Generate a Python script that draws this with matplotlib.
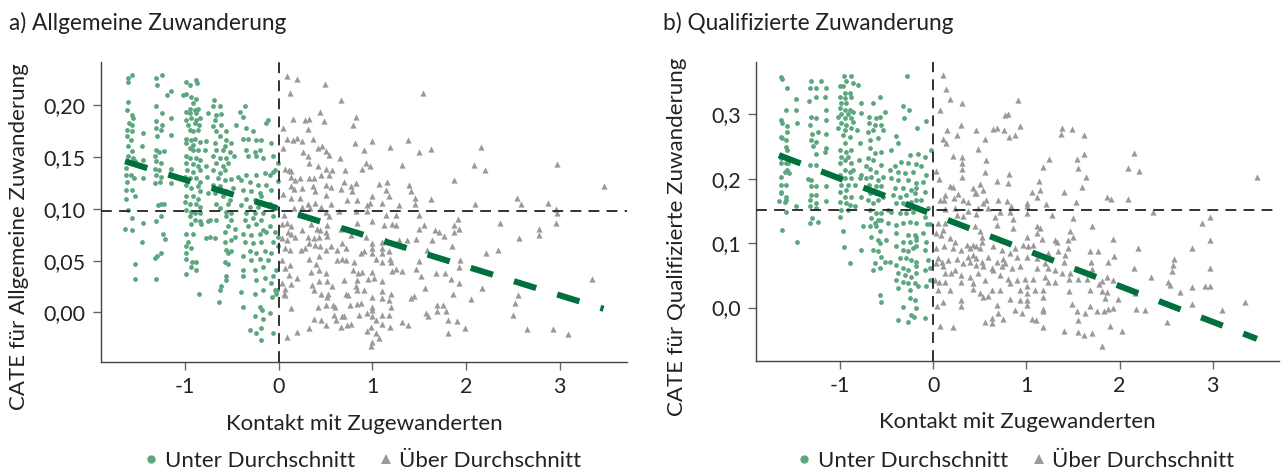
import numpy as np
import matplotlib
matplotlib.use("Agg")
import matplotlib.pyplot as plt
from matplotlib.lines import Line2D

plt.rcParams['font.family'] = ['Lato', 'DejaVu Sans']
plt.rcParams['axes.unicode_minus'] = False

GREEN = '#5ba77f'
GREY = '#9a9a9a'
FITC = '#00703c'
TXT = '#222222'

# ---------------- data ----------------
a_unter = [
(-1.614,0.227),(-1.571,0.229),(-1.607,0.223),(-1.607,0.203),(-1.621,0.196),(-1.571,0.191),(-1.561,0.188),
(-1.596,0.183),(-1.571,0.181),(-1.621,0.176),(-1.568,0.175),(-1.621,0.170),(-1.575,0.167),(-1.614,0.161),
(-1.571,0.156),(-1.614,0.151),(-1.561,0.149),(-1.536,0.146),(-1.632,0.140),(-1.632,0.133),(-1.575,0.133),
(-1.625,0.126),(-1.543,0.130),(-1.632,0.118),(-1.571,0.118),(-1.632,0.110),(-1.536,0.112),(-1.607,0.099),
(-1.571,0.091),(-1.643,0.081),(-1.571,0.080),(-1.536,0.047),(-1.536,0.032),
(-1.454,0.173),(-1.461,0.161),(-1.454,0.147),(-1.454,0.130),(-1.454,0.086),(-1.464,0.068),
(-1.311,0.227),(-1.250,0.229),(-1.300,0.220),(-1.150,0.214),(-1.193,0.210),(-1.311,0.199),(-1.250,0.193),
(-1.311,0.185),(-1.250,0.181),(-1.311,0.178),(-1.257,0.176),(-1.304,0.170),(-1.311,0.157),(-1.275,0.155),
(-1.229,0.156),(-1.318,0.151),(-1.311,0.146),(-1.257,0.144),(-1.318,0.139),(-1.282,0.138),(-1.311,0.133),
(-1.257,0.131),(-1.318,0.125),(-1.268,0.126),(-1.150,0.188),(-1.150,0.171),(-1.150,0.139),(-1.143,0.133),
(-1.157,0.125),(-1.257,0.105),(-1.232,0.105),(-1.293,0.104),(-1.257,0.093),(-1.311,0.088),(-1.239,0.076),
(-1.221,0.071),(-1.304,0.054),(-1.318,0.053),(-1.257,0.057),(-1.311,0.032),
(-0.996,0.223),(-0.954,0.220),(-0.882,0.225),(-0.871,0.222),(-1.025,0.210),(-0.996,0.211),(-0.936,0.208),
(-0.882,0.206),(-0.918,0.202),(-0.954,0.197),(-0.900,0.196),(-0.864,0.197),(-0.996,0.194),(-0.954,0.193),
(-0.882,0.193),(-0.936,0.188),(-0.882,0.186),(-0.846,0.188),(-0.996,0.186),(-0.971,0.181),(-0.900,0.183),
(-0.854,0.181),(-0.954,0.176),(-0.918,0.175),(-0.864,0.176),(-0.996,0.168),(-0.936,0.167),(-0.893,0.168),
(-0.989,0.164),(-0.918,0.162),(-0.846,0.165),(-0.954,0.159),(-0.918,0.157),(-0.864,0.157),(-0.996,0.151),
(-0.946,0.149),(-0.882,0.149),(-0.846,0.147),(-0.989,0.144),(-0.918,0.143),(-0.864,0.141),(-0.982,0.138),
(-0.918,0.136),(-0.846,0.138),(-1.007,0.131),(-0.954,0.130),(-0.882,0.130),(-0.846,0.126),(-0.996,0.123),
(-0.936,0.120),(-0.864,0.122),(-0.846,0.117),(-0.989,0.112),(-0.918,0.112),(-0.864,0.110),(-1.007,0.107),
(-0.954,0.105),(-0.882,0.105),(-0.846,0.102),(-0.989,0.099),(-0.936,0.097),(-0.900,0.096),(-0.846,0.096),
(-0.954,0.093),(-0.900,0.089),(-0.846,0.088),(-0.936,0.085),(-0.829,0.085),(-0.996,0.076),(-0.918,0.076),
(-0.971,0.068),(-0.996,0.064),(-0.936,0.062),(-0.996,0.057),(-0.989,0.052),(-0.925,0.049),(-0.882,0.049),
(-0.936,0.044),(-0.882,0.041),(-0.989,0.037),(-0.857,0.018),
(-0.782,0.166),(-0.757,0.193),(-0.775,0.141),(-0.793,0.157),(-0.764,0.131),(-0.757,0.088),(-0.739,0.073),
(-0.757,0.115),
(-0.693,0.205),(-0.704,0.199),(-0.632,0.199),(-0.675,0.191),(-0.686,0.186),(-0.621,0.192),(-0.704,0.180),
(-0.614,0.181),(-0.668,0.175),(-0.561,0.175),(-0.632,0.170),(-0.561,0.167),(-0.686,0.164),(-0.579,0.161),
(-0.507,0.164),(-0.668,0.157),(-0.596,0.157),(-0.525,0.155),(-0.704,0.151),(-0.632,0.149),(-0.561,0.149),
(-0.479,0.151),(-0.668,0.144),(-0.596,0.141),(-0.543,0.144),(-0.704,0.138),(-0.632,0.135),(-0.579,0.138),
(-0.650,0.130),(-0.579,0.128),(-0.507,0.129),(-0.704,0.123),(-0.632,0.122),(-0.561,0.117),(-0.489,0.120),
(-0.686,0.115),(-0.596,0.112),(-0.525,0.109),(-0.668,0.105),(-0.543,0.105),(-0.632,0.101),(-0.561,0.097),
(-0.507,0.096),(-0.739,0.089),(-0.668,0.089),(-0.561,0.093),(-0.507,0.089),(-0.543,0.083),(-0.471,0.081),
(-0.579,0.078),(-0.471,0.073),(-0.775,0.072),(-0.686,0.072),(-0.579,0.068),(-0.507,0.070),(-0.561,0.060),
(-0.507,0.059),(-0.543,0.057),(-0.579,0.049),(-0.543,0.047),(-0.561,0.035),(-0.561,0.031),(-0.614,0.025),
(-0.632,0.022),(-0.643,0.010),
(-0.418,0.194),(-0.382,0.189),(-0.364,0.199),(-0.454,0.181),(-0.346,0.178),(-0.275,0.175),(-0.382,0.168),
(-0.329,0.168),(-0.239,0.167),(-0.186,0.167),(-0.346,0.157),(-0.257,0.155),(-0.204,0.157),(-0.329,0.151),
(-0.239,0.151),(-0.168,0.149),(-0.436,0.131),(-0.346,0.133),(-0.239,0.133),(-0.150,0.135),(-0.400,0.128),
(-0.311,0.126),(-0.221,0.123),(-0.132,0.123),(-0.382,0.118),(-0.293,0.117),(-0.204,0.115),(-0.346,0.110),
(-0.257,0.109),(-0.186,0.112),(-0.400,0.104),(-0.311,0.102),(-0.221,0.102),(-0.132,0.105),(-0.346,0.096),
(-0.257,0.096),(-0.168,0.096),(-0.364,0.089),(-0.275,0.091),(-0.186,0.089),(-0.329,0.083),(-0.239,0.085),
(-0.168,0.080),(-0.382,0.076),(-0.293,0.075),(-0.204,0.076),(-0.132,0.078),(-0.364,0.068),(-0.275,0.067),
(-0.186,0.068),(-0.311,0.059),(-0.239,0.057),(-0.150,0.059),(-0.382,0.054),(-0.293,0.051),(-0.204,0.052),
(-0.382,0.041),(-0.257,0.041),(-0.168,0.044),(-0.382,0.035),(-0.239,0.031),(-0.150,0.033),(-0.400,0.020),
(-0.257,0.018),(-0.168,0.022),(-0.382,0.005),(-0.204,0.005),(-0.179,0.002),(-0.257,-0.004),(-0.168,-0.006),
(-0.186,-0.015),(-0.239,-0.020),(-0.311,-0.017),(-0.193,-0.027),(-0.061,-0.020),(-0.071,0.015),(-0.096,-0.001),
(-0.079,0.028),(-0.061,0.136),
(-0.132,0.183),(-0.114,0.186),(-0.079,0.164),(-0.061,0.151),(-0.096,0.133),(-0.043,0.138),(-0.079,0.118),
(-0.096,0.105),(-0.025,0.102),(-0.061,0.093),(-0.096,0.083),(-0.043,0.078),(-0.061,0.068),(-0.079,0.057),
(-0.114,0.051),(-0.025,0.041),(-0.061,0.035),(-0.043,0.022),(-0.025,0.018),
(-0.010,0.144),(-0.010,0.127),(-0.015,0.101),(-0.010,0.073),(-0.012,0.064),(-0.015,0.022),
]

a_ueber = [
(0.082,0.228),(0.196,0.226),(0.488,0.221),(0.118,0.212),(1.544,0.212),(0.660,0.205),(0.439,0.194),(0.820,0.189),
(0.150,0.187),(0.278,0.186),(0.321,0.187),(0.481,0.185),(0.046,0.178),(0.310,0.177),(0.795,0.181),(0.089,0.168),
(0.150,0.167),(0.189,0.169),(0.250,0.166),(0.367,0.168),(0.809,0.164),(0.998,0.166),(1.380,0.167),(0.046,0.159),
(0.421,0.159),(0.463,0.161),(0.499,0.156),(0.909,0.157),(1.187,0.160),(1.497,0.155),(1.622,0.158),(0.260,0.155),
(0.310,0.151),(0.535,0.152),(0.652,0.149),(0.321,0.144),(0.107,0.138),(0.417,0.141),(0.499,0.139),(0.570,0.138),
(0.702,0.138),(0.884,0.139),(0.927,0.144),(0.970,0.141),(1.319,0.142),(0.071,0.139),(0.135,0.137),(0.125,0.131),
(0.178,0.128),(0.225,0.130),(0.321,0.130),(0.381,0.130),(0.446,0.133),(0.535,0.133),(0.695,0.126),(0.820,0.125),
(1.070,0.124),(1.152,0.126),(1.390,0.123),(0.046,0.114),(0.135,0.122),(0.160,0.119),(0.250,0.120),(0.367,0.122),
(0.385,0.117),(0.499,0.123),(0.553,0.121),(0.660,0.119),(0.766,0.122),(0.784,0.117),(1.141,0.118),(1.176,0.112),
(1.408,0.117),(1.455,0.111),(0.125,0.111),(0.225,0.111),(0.314,0.105),(0.385,0.106),(0.499,0.113),(0.560,0.105),
(0.724,0.109),(0.831,0.109),(0.945,0.104),(0.998,0.112),(0.973,0.106),(1.105,0.106),(1.283,0.104),(1.455,0.105),
(1.622,0.110),(0.053,0.094),(0.160,0.101),(0.250,0.102),(0.332,0.101),(0.446,0.102),(0.499,0.097),(0.535,0.093),
(0.642,0.098),(0.820,0.098),(0.945,0.098),(1.141,0.094),(1.248,0.094),(1.497,0.094),(0.036,0.085),(0.082,0.086),
(0.125,0.083),(0.096,0.078),(0.125,0.076),(0.250,0.080),(0.339,0.085),(0.410,0.081),(0.439,0.080),(0.499,0.078),
(0.517,0.084),(0.660,0.081),(0.838,0.086),(0.998,0.088),(1.123,0.084),(1.212,0.085),(1.248,0.084),(1.497,0.081),
(1.551,0.084),(1.668,0.080),(1.711,0.078),(0.036,0.072),(0.089,0.070),(0.178,0.073),(0.314,0.073),(0.374,0.072),
(0.428,0.073),(0.517,0.074),(0.766,0.075),(0.927,0.073),(1.141,0.070),(1.283,0.070),(1.462,0.071),(1.640,0.070),
(0.071,0.062),(0.118,0.060),(0.232,0.060),(0.278,0.062),(0.321,0.067),(0.385,0.065),(0.439,0.064),(0.499,0.060),
(0.553,0.064),(0.624,0.060),(0.677,0.067),(0.713,0.062),(0.873,0.057),(0.909,0.059),(0.998,0.067),(0.998,0.062),
(0.998,0.057),(1.105,0.068),(1.098,0.062),(1.105,0.057),(1.176,0.059),(1.373,0.070),(0.036,0.051),(0.321,0.052),
(0.428,0.054),(0.624,0.051),(0.677,0.052),(0.713,0.051),(0.802,0.049),(1.034,0.052),(1.105,0.049),(1.187,0.052),
(1.194,0.049),(1.497,0.050),(1.586,0.060),(0.118,0.046),(0.071,0.043),(0.392,0.047),(0.428,0.041),(0.346,0.039),
(0.499,0.038),(0.107,0.036),(0.196,0.033),(0.795,0.041),(0.848,0.038),(0.891,0.039),(0.998,0.039),(1.212,0.040),
(1.255,0.042),(1.319,0.040),(1.469,0.042),(1.515,0.035),(1.676,0.038),(0.036,0.028),(0.071,0.023),(0.135,0.027),
(0.357,0.026),(0.428,0.030),(0.517,0.030),(0.563,0.025),(0.695,0.031),(0.838,0.031),(0.955,0.032),(1.016,0.033),
(1.105,0.030),(1.561,0.024),(0.053,0.018),(0.071,0.017),(0.374,0.022),(0.446,0.018),(0.524,0.018),(0.713,0.018),
(0.742,0.017),(0.820,0.025),(0.838,0.022),(0.909,0.022),(0.998,0.015),(1.105,0.021),(1.105,0.014),(1.194,0.018),
(1.408,0.014),(1.444,0.016),(0.517,0.015),(0.417,0.005),(0.499,0.007),(0.578,0.007),(0.599,0.005),(0.756,0.007),
(0.831,0.008),(0.873,0.009),(0.998,0.005),(0.998,0.002),(1.176,0.012),(1.194,0.005),(1.693,0.007),(0.125,0.004),
(0.374,-0.006),(0.446,-0.007),(0.499,-0.012),(0.588,-0.003),(0.606,-0.007),(0.677,-0.004),(0.695,-0.004),
(0.856,-0.003),(0.945,-0.001),(0.998,-0.004),(1.034,-0.007),(1.105,-0.003),(1.176,-0.003),(1.569,-0.001),
(1.594,-0.004),(1.693,0.001),(0.321,-0.015),(0.196,-0.019),(0.660,-0.014),(0.731,-0.012),(0.766,-0.011),
(0.945,-0.018),(0.980,-0.014),(1.034,-0.020),(1.105,-0.011),(1.187,-0.014),(1.312,-0.009),(1.383,-0.012),
(0.082,-0.024),(0.980,-0.033),(0.998,-0.029),(1.070,-0.025),(1.765,0.074),
(2.160,0.160),(2.089,0.142),(2.207,0.138),(2.970,0.143),(3.469,0.122),(2.545,0.111),(2.588,0.105),(2.096,0.105),
(2.880,0.106),(2.963,0.100),(2.970,0.096),(2.963,0.086),(1.911,0.090),(1.929,0.081),(2.367,0.086),(2.784,0.081),
(2.784,0.075),(2.570,0.072),(1.847,0.064),(2.214,0.057),(2.346,0.060),(1.939,0.051),(1.929,0.044),(1.929,0.028),
(2.168,0.024),(3.344,0.032),(2.560,0.017),(2.528,0.009),(2.057,0.013),(2.506,-0.003),(1.989,-0.015),(1.900,-0.008),
(2.652,-0.016),(2.927,-0.016),(3.094,-0.021),
(1.875,0.128),(1.875,0.084),(1.868,0.078),(1.779,0.038),(1.840,0.032),(1.865,0.018),(1.758,0.007),(1.786,0.001),
(1.811,-0.007),(1.811,-0.020),
]

b_unter = [
(-1.629,0.357),(-1.618,0.355),(-1.568,0.340),(-1.583,0.307),(-1.629,0.291),(-1.618,0.287),(-1.568,0.282),
(-1.629,0.265),(-1.618,0.263),(-1.575,0.260),(-1.568,0.273),(-1.583,0.249),(-1.568,0.245),(-1.629,0.232),
(-1.583,0.225),(-1.629,0.224),(-1.557,0.224),(-1.568,0.214),(-1.593,0.211),(-1.547,0.208),(-1.629,0.203),
(-1.629,0.190),(-1.583,0.190),(-1.636,0.180),(-1.629,0.177),(-1.583,0.172),(-1.583,0.167),(-1.593,0.163),
(-1.654,0.166),(-1.583,0.149),(-1.618,0.120),
(-1.468,0.324),(-1.468,0.307),(-1.457,0.286),(-1.468,0.157),(-1.457,0.101),
(-1.307,0.351),(-1.253,0.340),(-1.199,0.352),(-1.153,0.340),(-1.318,0.340),(-1.332,0.321),(-1.253,0.327),
(-1.307,0.296),(-1.253,0.294),(-1.325,0.283),(-1.296,0.270),(-1.235,0.273),(-1.153,0.307),(-1.153,0.291),
(-1.146,0.269),(-1.307,0.260),(-1.260,0.257),(-1.289,0.250),(-1.146,0.247),(-1.164,0.242),(-1.253,0.239),
(-1.260,0.221),(-1.325,0.221),(-1.343,0.199),(-1.314,0.198),(-1.307,0.188),(-1.253,0.188),(-1.153,0.188),
(-1.307,0.175),(-1.253,0.175),(-1.325,0.167),(-1.153,0.165),(-1.260,0.162),(-1.318,0.157),(-1.253,0.154),
(-1.296,0.139),(-1.235,0.133),(-1.318,0.131),
(-0.956,0.360),(-0.877,0.360),(-0.931,0.351),(-0.859,0.348),(-0.806,0.346),(-1.003,0.343),(-0.967,0.344),
(-0.949,0.333),(-0.895,0.333),(-1.003,0.327),(-0.949,0.325),(-0.877,0.327),(-0.985,0.317),(-0.931,0.317),
(-1.003,0.309),(-0.949,0.307),(-0.895,0.307),(-0.985,0.301),(-0.913,0.301),(-0.859,0.304),(-1.020,0.296),
(-0.949,0.294),(-0.877,0.294),(-0.985,0.286),(-0.931,0.283),(-0.859,0.288),(-1.020,0.278),(-0.949,0.276),
(-0.877,0.278),(-0.967,0.268),(-0.895,0.265),(-0.949,0.255),(-1.003,0.245),(-0.931,0.242),(-0.877,0.245),
(-0.985,0.234),(-0.913,0.234),(-0.949,0.229),(-1.003,0.224),(-0.877,0.224),(-0.949,0.214),(-0.895,0.211),
(-1.003,0.206),(-0.949,0.201),(-0.877,0.201),(-0.985,0.190),(-0.913,0.190),(-0.841,0.190),(-1.003,0.180),
(-0.931,0.182),(-0.949,0.172),(-0.877,0.172),(-1.003,0.164),(-0.931,0.162),(-0.895,0.159),(-0.985,0.151),
(-0.913,0.151),(-1.003,0.141),(-0.967,0.118),(-0.956,0.094),(-0.895,0.069),(-0.770,0.317),(-0.770,0.302),
(-0.795,0.229),(-0.770,0.206),(-0.788,0.201),(-0.770,0.172),(-0.752,0.126),(-0.770,0.089),(-0.841,0.157),
(-0.859,0.214),(-0.813,0.276),(-0.788,0.255),(-1.164,0.327),
(-0.644,0.317),(-0.566,0.326),(-0.687,0.296),(-0.609,0.294),(-0.573,0.296),(-0.519,0.304),(-0.687,0.286),
(-0.627,0.283),(-0.555,0.283),(-0.698,0.273),(-0.644,0.276),(-0.537,0.275),(-0.680,0.260),(-0.591,0.263),
(-0.680,0.247),(-0.627,0.240),(-0.555,0.242),(-0.698,0.232),(-0.644,0.229),(-0.716,0.219),(-0.680,0.215),
(-0.609,0.211),(-0.555,0.221),(-0.716,0.201),(-0.662,0.203),(-0.591,0.198),(-0.537,0.203),(-0.691,0.190),
(-0.609,0.188),(-0.555,0.188),(-0.680,0.177),(-0.609,0.177),(-0.537,0.172),(-0.698,0.167),(-0.644,0.162),
(-0.591,0.167),(-0.680,0.151),(-0.609,0.146),(-0.555,0.146),(-0.662,0.139),(-0.591,0.136),(-0.555,0.136),
(-0.680,0.126),(-0.609,0.126),(-0.573,0.118),(-0.662,0.110),(-0.591,0.105),(-0.573,0.100),(-0.644,0.089),
(-0.591,0.087),(-0.555,0.079),(-0.627,0.069),(-0.644,0.058),(-0.573,0.061),(-0.519,0.071),(-0.465,0.071),
(-0.573,0.020),(-0.555,0.009),(-0.627,0.131),(-0.483,0.151),(-0.483,0.131),(-0.501,0.105),
(-0.276,0.360),(-0.322,0.312),(-0.258,0.307),(-0.315,0.294),(-0.168,0.278),(-0.394,0.266),(-0.376,0.255),
(-0.448,0.245),(-0.243,0.236),(-0.340,0.226),(-0.269,0.224),(-0.412,0.220),(-0.179,0.223),(-0.465,0.214),
(-0.376,0.211),(-0.304,0.208),(-0.215,0.211),(-0.448,0.201),(-0.376,0.198),(-0.269,0.198),(-0.179,0.193),
(-0.412,0.185),(-0.322,0.185),(-0.233,0.182),(-0.179,0.185),(-0.430,0.175),(-0.358,0.172),(-0.286,0.175),
(-0.197,0.177),(-0.394,0.162),(-0.322,0.162),(-0.233,0.164),(-0.179,0.167),(-0.448,0.149),(-0.358,0.146),
(-0.286,0.146),(-0.215,0.149),(-0.394,0.128),(-0.322,0.131),(-0.251,0.133),(-0.179,0.131),(-0.394,0.115),
(-0.269,0.113),(-0.197,0.113),(-0.179,0.110),(-0.322,0.102),(-0.251,0.102),(-0.179,0.105),(-0.394,0.095),
(-0.322,0.089),(-0.269,0.087),(-0.215,0.092),(-0.179,0.095),(-0.358,0.077),(-0.286,0.077),(-0.233,0.074),
(-0.179,0.071),(-0.394,0.066),(-0.322,0.061),(-0.269,0.058),(-0.179,0.064),(-0.376,0.053),(-0.304,0.051),
(-0.233,0.048),(-0.179,0.053),(-0.394,0.043),(-0.322,0.040),(-0.269,0.038),(-0.197,0.038),(-0.376,0.030),
(-0.251,0.027),(-0.161,0.033),(-0.251,0.014),(-0.197,0.012),(-0.322,0.001),(-0.179,-0.001),(-0.233,-0.011),
(-0.376,-0.019),(-0.269,-0.022),(-0.208,-0.014),(-0.090,-0.017),
(-0.072,0.290),(-0.090,0.234),(-0.161,0.239),(-0.125,0.219),(-0.072,0.206),(-0.107,0.195),(-0.090,0.180),
(-0.132,0.167),(-0.054,0.154),(-0.090,0.141),(-0.061,0.129),(-0.036,0.129),(-0.107,0.115),(-0.072,0.102),
(-0.090,0.089),(-0.054,0.074),(-0.036,0.061),(-0.090,0.058),(-0.036,0.043),(-0.072,0.033),(-0.018,0.244),
]

b_ueber = [
(0.107,0.361),(0.136,0.339),(0.186,0.323),(0.315,0.318),(0.906,0.322),(0.072,0.307),(0.770,0.299),(0.798,0.300),
(0.304,0.284),(0.150,0.275),(0.251,0.267),(0.455,0.275),(0.644,0.277),(0.680,0.278),(0.759,0.275),(0.931,0.281),
(0.107,0.262),(0.143,0.255),(0.813,0.264),(0.877,0.268),(0.555,0.261),(1.386,0.278),(1.486,0.277),(1.371,0.269),
(1.618,0.267),(0.483,0.246),(0.208,0.235),(0.311,0.233),(0.311,0.224),(0.311,0.215),(0.562,0.229),(0.555,0.211),
(0.311,0.202),(0.036,0.212),(0.064,0.200),(1.242,0.230),(1.182,0.218),(1.540,0.230),(1.618,0.239),(1.550,0.216),
(1.640,0.202),(0.813,0.207),(0.687,0.197),(0.806,0.194),(0.179,0.189),(0.215,0.187),(0.430,0.185),(0.501,0.191),
(0.465,0.178),(0.530,0.182),(0.448,0.177),(0.132,0.175),(0.269,0.176),(0.072,0.167),(0.118,0.167),(1.063,0.179),
(1.146,0.182),(1.139,0.197),(1.110,0.171),(1.407,0.179),(1.593,0.187),(0.226,0.170),(0.322,0.167),(0.376,0.163),
(0.537,0.162),(0.566,0.167),(0.691,0.167),(0.788,0.166),(0.834,0.157),(1.003,0.162),(1.003,0.157),(1.207,0.161),
(1.532,0.163),(0.125,0.153),(0.233,0.154),(0.369,0.150),(0.483,0.154),(0.591,0.154),(0.716,0.149),(0.823,0.149),
(1.003,0.146),(1.271,0.143),(0.054,0.131),(0.125,0.131),(0.251,0.144),(0.322,0.142),(0.465,0.145),(0.662,0.141),
(0.859,0.137),(1.504,0.139),(0.107,0.120),(0.036,0.115),(0.089,0.113),(0.186,0.108),(0.233,0.102),(0.448,0.126),
(0.501,0.118),(0.680,0.128),(0.859,0.123),(1.110,0.127),(1.146,0.123),(1.117,0.115),(1.468,0.119),(1.708,0.126),
(1.450,0.105),(1.504,0.110),(0.519,0.110),(0.519,0.102),(1.003,0.110),(1.074,0.097),(1.164,0.107),(1.307,0.105),
(1.325,0.102),(0.036,0.092),(0.118,0.095),(0.215,0.092),(0.304,0.089),(0.358,0.097),(0.394,0.092),(0.430,0.097),
(0.465,0.095),(0.501,0.092),(0.644,0.095),(0.734,0.089),(0.877,0.092),(0.967,0.097),(1.020,0.095),(1.343,0.087),
(1.443,0.092),(1.683,0.088),(0.054,0.077),(0.100,0.071),(0.161,0.074),(0.251,0.075),(0.376,0.079),(0.430,0.082),
(0.465,0.077),(0.519,0.071),(0.591,0.079),(0.680,0.071),(0.752,0.075),(0.823,0.084),(0.895,0.079),(1.003,0.079),
(1.110,0.077),(1.235,0.084),(1.414,0.082),(1.407,0.070),(1.694,0.070),(0.036,0.069),(0.107,0.064),(0.233,0.058),
(0.322,0.069),(0.394,0.070),(0.465,0.066),(0.537,0.064),(0.627,0.061),(0.734,0.064),(0.770,0.069),(0.841,0.061),
(0.931,0.064),(1.110,0.061),(1.199,0.069),(1.235,0.061),(1.307,0.058),(1.378,0.053),(1.468,0.053),(1.557,0.045),
(1.701,0.059),(0.018,0.043),(0.064,0.040),(0.125,0.053),(0.197,0.053),(0.304,0.051),(0.394,0.048),(0.483,0.053),
(0.555,0.043),(0.644,0.058),(0.716,0.051),(0.806,0.045),(0.895,0.043),(0.985,0.045),(1.074,0.045),(1.199,0.048),
(1.235,0.039),(1.307,0.039),(1.461,0.045),(1.647,0.045),(0.054,0.027),(0.125,0.039),(0.186,0.027),(0.304,0.040),
(0.430,0.038),(0.430,0.028),(0.501,0.022),(0.591,0.018),(0.627,0.027),(0.716,0.027),(0.823,0.038),(0.931,0.027),
(1.003,0.033),(1.003,0.022),(1.092,0.027),(1.182,0.027),(1.182,0.017),(1.461,0.025),(1.683,0.027),(0.043,0.002),
(0.107,0.009),(0.304,0.012),(0.304,0.002),(0.537,0.017),(0.680,0.004),(0.823,0.013),(0.877,-0.004),(0.931,0.012),
(1.003,0.012),(1.003,0.004),(1.182,-0.003),(1.182,-0.006),(1.486,0.005),(1.540,-0.006),(1.683,0.003),
(0.555,-0.023),(0.627,-0.024),(0.627,-0.016),(0.752,-0.018),(0.698,-0.009),(0.949,-0.009),(1.056,-0.018),
(1.103,-0.019),(1.557,-0.019),(1.629,-0.009),(0.072,-0.029),(0.215,-0.031),(1.182,-0.031),(1.407,-0.037),
(1.557,-0.038),(1.622,-0.042),(1.701,-0.039),
(2.155,0.240),(2.087,0.216),(2.206,0.212),(3.473,0.202),(1.869,0.171),(1.905,0.168),(2.095,0.169),(2.363,0.149),
(2.972,0.140),(2.882,0.131),(1.926,0.106),(1.772,0.088),(2.202,0.092),(2.782,0.092),(2.972,0.105),(1.937,0.080),
(1.873,0.070),(2.589,0.075),(2.571,0.066),(2.560,0.056),(2.159,0.061),(2.972,0.062),(2.338,0.048),(1.869,0.047),
(1.926,0.043),(1.808,0.041),(1.783,0.036),(2.524,0.040),(2.542,0.035),(2.649,0.024),(2.782,0.032),(2.918,0.034),
(2.972,0.034),(1.808,0.026),(1.862,0.024),(2.166,0.022),(1.844,0.014),(1.987,0.013),(2.782,0.006),(3.348,0.009),
(1.754,-0.005),(1.837,-0.006),(1.880,-0.002),(1.926,0.000),(2.173,-0.003),(2.274,-0.004),(2.506,-0.022),
(3.097,-0.004),(1.898,-0.028),(2.030,-0.037),(1.808,-0.059),
]

# reference lines (mean CATE, x = 0) and linear fit (intercept, slope)
a_mean_cate = 0.0977
b_mean_cate = 0.151
a_fit = (0.1002, -0.0279)
b_fit = (0.1445, -0.0556)

x_ticks = [-1, 0, 1, 2, 3]
x_ticklabels = ['-1', '0', '1', '2', '3']
a_yticks = [0.00, 0.05, 0.10, 0.15, 0.20]
a_yticklabels = ['0,00', '0,05', '0,10', '0,15', '0,20']
b_yticks = [0.0, 0.1, 0.2, 0.3]
b_yticklabels = ['0,0', '0,1', '0,2', '0,3']

titles = ['a) Allgemeine Zuwanderung', 'b) Qualifizierte Zuwanderung']
ylabels = ['CATE für Allgemeine Zuwanderung', 'CATE für Qualifizierte Zuwanderung']
xlabel = 'Kontakt mit Zugewanderten'
legend_labels = ['Unter Durchschnitt', 'Über Durchschnitt']

FS_TICK = 15.5
FS_LAB = 16
FS_TITLE = 16.3

# ---------------- figure ----------------
W, H = 1287, 470
fig = plt.figure(figsize=(W / 100, H / 100), dpi=100)
axa = fig.add_axes([101 / W, (H - 362) / H, 526 / W, 300 / H])
axb = fig.add_axes([756 / W, (H - 361) / H, 523 / W, 299 / H])


def panel(ax, unter, ueber, mean_cate, fit, yticks, yticklabels, xlim, ylim, ylabel):
    u = np.array(unter)
    o = np.array(ueber)
    ax.scatter(u[:, 0], u[:, 1], s=12, marker='o', color=GREEN, linewidths=0, zorder=2)
    ax.scatter(o[:, 0], o[:, 1], s=20, marker='^', color=GREY, linewidths=0, zorder=2)
    ax.axhline(mean_cate, color=TXT, lw=1.3, ls=(0, (6, 4)), zorder=3)
    ax.axvline(0, color=TXT, lw=1.3, ls=(0, (6, 4)), zorder=3)
    allx = np.concatenate([u[:, 0], o[:, 0]])
    xs = np.array([allx.min(), allx.max()])
    ax.plot(xs, fit[0] + fit[1] * xs, color=FITC, lw=4.4,
            ls=(0, (3.8, 3.6)), dash_capstyle='butt', zorder=4)
    ax.set_xlim(*xlim)
    ax.set_ylim(*ylim)
    ax.set_xticks(x_ticks)
    ax.set_xticklabels(x_ticklabels)
    ax.set_yticks(yticks)
    ax.set_yticklabels(yticklabels)
    for s in ('top', 'right'):
        ax.spines[s].set_visible(False)
    for s in ('left', 'bottom'):
        ax.spines[s].set_color('#444444')
        ax.spines[s].set_linewidth(1.0)
    ax.tick_params(length=6, width=1, color='#666666', labelsize=FS_TICK,
                   labelcolor=TXT, pad=5)
    ax.set_ylabel(ylabel, fontsize=FS_LAB, color=TXT)
    ax.yaxis.label.set_va('center')
    ax.set_xlabel(xlabel, fontsize=FS_LAB, color=TXT)
    ax.xaxis.label.set_va('center')
    ax.xaxis.set_label_coords(0.5, -0.205)


panel(axa, a_unter, a_ueber, a_mean_cate, a_fit, a_yticks, a_yticklabels,
      (-1.90, 3.72), (-0.048, 0.242), ylabels[0])
panel(axb, b_unter, b_ueber, b_mean_cate, b_fit, b_yticks, b_yticklabels,
      (-1.90, 3.71), (-0.083, 0.381), ylabels[1])
axa.yaxis.set_label_coords(-0.156, 0.417)
axb.yaxis.set_label_coords(-0.151, 0.415)

fig.text(9 / W, 1 - 30 / H, titles[0], fontsize=FS_TITLE, color=TXT, ha='left', va='baseline')
fig.text(663 / W, 1 - 30 / H, titles[1], fontsize=FS_TITLE, color=TXT, ha='left', va='baseline')

handles = [Line2D([], [], ls='', marker='o', color=GREEN, markersize=6, markeredgewidth=0),
           Line2D([], [], ls='', marker='^', color=GREY, markersize=7, markeredgewidth=0)]
for cx in (362, 1015):
    fig.legend(handles, legend_labels, loc='center', bbox_to_anchor=(cx / W, 1 - 461 / H),
               ncol=2, frameon=False, fontsize=FS_LAB, handletextpad=0.2, columnspacing=1.0,
               handlelength=0.8, borderaxespad=0, labelcolor=TXT)

fig.savefig('out.png', dpi=100)
